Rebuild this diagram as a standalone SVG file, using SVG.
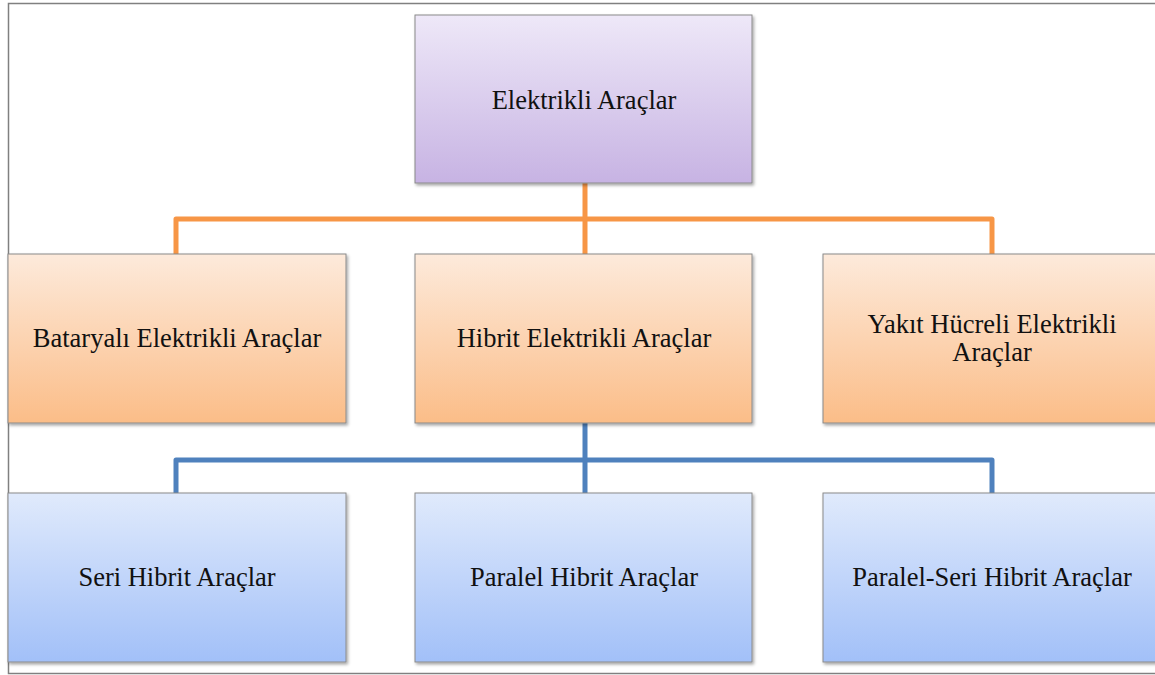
<svg xmlns="http://www.w3.org/2000/svg" width="1155" height="675" viewBox="0 0 1155 675">
<defs>
<linearGradient id="gP" x1="0" y1="0" x2="0" y2="1"><stop offset="0" stop-color="#EEE8F8"/><stop offset="1" stop-color="#C7B3E3"/></linearGradient>
<linearGradient id="gO" x1="0" y1="0" x2="0" y2="1"><stop offset="0" stop-color="#FDEADB"/><stop offset="1" stop-color="#FBBD88"/></linearGradient>
<linearGradient id="gB" x1="0" y1="0" x2="0" y2="1"><stop offset="0" stop-color="#E0EAFC"/><stop offset="1" stop-color="#A2C0F8"/></linearGradient>
<filter id="sh" x="-5%" y="-5%" width="115%" height="120%"><feDropShadow dx="1.5" dy="2" stdDeviation="1.5" flood-color="#000" flood-opacity="0.35"/></filter>
</defs>
<style>
.box{stroke:#8a8a8a;stroke-width:1;filter:url(#sh)}
.lbl{font-family:"Liberation Serif","Times New Roman",serif;font-size:26.5px;fill:#111;text-anchor:middle}
.co{fill:none;stroke:#F79646;stroke-width:5;stroke-linejoin:round}
.cb{fill:none;stroke:#4F81BD;stroke-width:5;stroke-linejoin:round}
</style>
<rect x="0" y="0" width="1155" height="675" fill="#fff"/>
<rect x="8.5" y="3.5" width="1160" height="670" fill="none" stroke="#808080" stroke-width="1.5"/>
<g id="connectors">
<path class="co" d="M585 183V254M176 254V219H992V254"/>
<path class="cb" d="M585 423V493M176 493V460H992V493"/>
</g>
<g id="n-root"><rect class="box" x="415" y="15" width="337" height="168" fill="url(#gP)"/><text class="lbl" x="584" y="109">Elektrikli Araçlar</text></g>
<g id="n-bat"><rect class="box" x="8" y="254" width="338" height="169" fill="url(#gO)"/><text class="lbl" x="177" y="347">Bataryalı Elektrikli Araçlar</text></g>
<g id="n-hib"><rect class="box" x="415" y="254" width="337" height="169" fill="url(#gO)"/><text class="lbl" x="584" y="347">Hibrit Elektrikli Araçlar</text></g>
<g id="n-yak"><rect class="box" x="823" y="254" width="340" height="169" fill="url(#gO)"/><text class="lbl" x="992" y="333">Yakıt Hücreli Elektrikli</text><text class="lbl" x="992" y="361">Araçlar</text></g>
<g id="n-seri"><rect class="box" x="8" y="493" width="338" height="169" fill="url(#gB)"/><text class="lbl" x="177" y="586">Seri Hibrit Araçlar</text></g>
<g id="n-par"><rect class="box" x="415" y="493" width="337" height="169" fill="url(#gB)"/><text class="lbl" x="584" y="586">Paralel Hibrit Araçlar</text></g>
<g id="n-ps"><rect class="box" x="823" y="493" width="340" height="169" fill="url(#gB)"/><text class="lbl" x="992" y="586">Paralel-Seri Hibrit Araçlar</text></g>
</svg>
